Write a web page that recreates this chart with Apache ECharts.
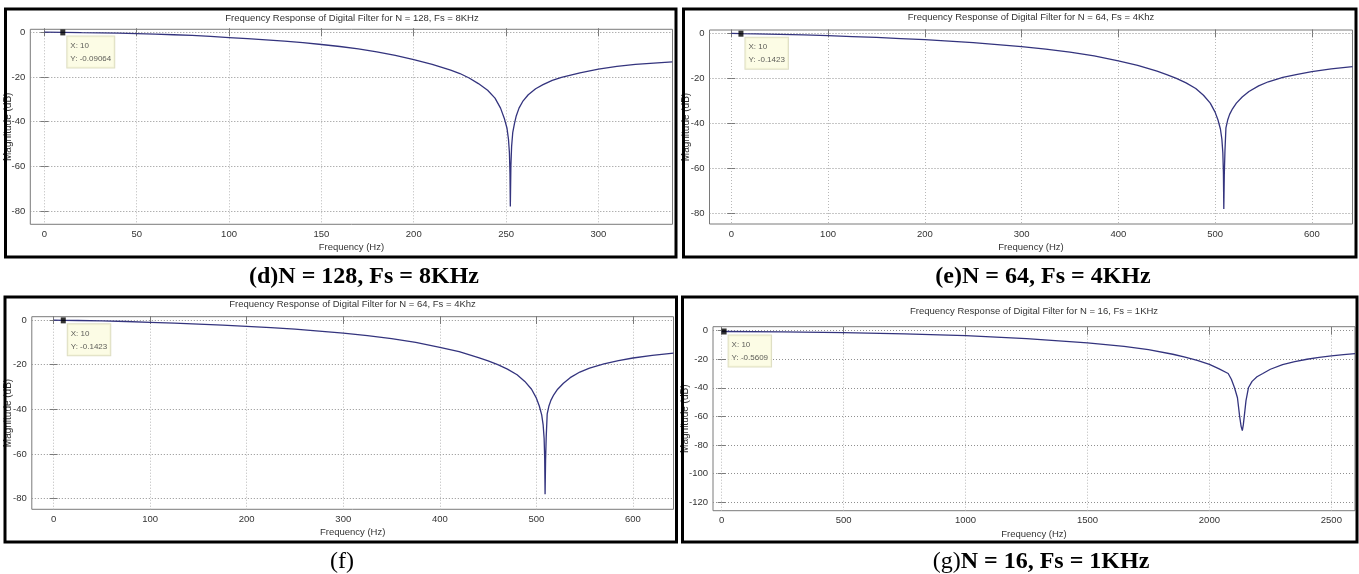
<!DOCTYPE html>
<html><head><meta charset="utf-8">
<script src="https://cdn.jsdelivr.net/npm/echarts@6/dist/echarts.min.js"></script>
<style>html,body{margin:0;padding:0;background:#fff}#c{width:1359px;height:574px}</style>
</head><body><div id="c"></div><script>
// ---- data ----
const freqD = [0,10,20,30,40,50,60,70,80,90,100,110,120,130,140,150,160,170,180,190,200,210,220,225,230,235,240,244,247,249,250.5,251.3,251.8,252.1,252.3,252.6,253.0,253.6,254.5,255.5,257,259,262,266,270,275,280,290,300,310,320,330,340];
const magD  = [0,-0.09,-0.2,-0.3,-0.45,-0.65,-0.9,-1.15,-1.45,-1.9,-2.4,-2.9,-3.4,-4.0,-4.7,-5.5,-6.4,-7.5,-8.8,-10.4,-12.3,-14.4,-17.0,-18.5,-20.5,-23,-26,-29.5,-34,-38.5,-43,-48,-54,-63,-78,-60,-51,-45,-41,-37.5,-34,-31,-28,-25.3,-23.5,-21.6,-20.2,-18.2,-16.5,-15.3,-14.4,-13.8,-13.3];

const freqE = [0,10,25,50,75,100,125,150,175,200,225,250,275,300,325,350,375,400,420,440,450,460,470,480,488,495,500,503,505.5,507,508,508.6,509,509.5,510.2,511.2,513,515,518,522,528,535,545,555,570,585,600,620,642];
const magE  = [0,-0.14,-0.2,-0.4,-0.65,-1.0,-1.4,-1.8,-2.3,-2.8,-3.4,-4.1,-5.0,-5.9,-7.0,-8.3,-10.0,-12.2,-14.2,-16.8,-18.3,-20,-22,-24.5,-27.5,-31,-35,-38.5,-42.5,-47,-53,-62,-78,-63,-52,-42,-38.5,-36,-33.5,-31,-28.3,-25.8,-23.3,-21.5,-19.6,-18.2,-17.0,-15.8,-14.8];

const freqF = [0,10,25,50,75,100,125,150,175,200,225,250,275,300,325,350,375,400,420,440,450,460,470,480,488,495,500,503,505.5,507,508,508.6,509,509.5,510.2,511.2,513,515,518,522,528,535,545,555,570,585,600,620,642];
const magF  = [0,-0.14,-0.2,-0.4,-0.65,-1.0,-1.4,-1.8,-2.3,-2.8,-3.4,-4.1,-5.0,-5.9,-7.0,-8.3,-10.0,-12.2,-14.2,-16.8,-18.3,-20,-22,-24.5,-27.5,-31,-35,-38.5,-42.5,-47,-53,-62,-78,-63,-52,-42,-38.5,-36,-33.5,-31,-28.3,-25.8,-23.3,-21.5,-19.6,-18.2,-17.0,-15.8,-14.8];

const freqG = [0,10,250,500,750,1000,1250,1500,1650,1750,1850,1900,1950,2000,2040,2077,2090,2103,2115,2124,2130,2135,2139,2143,2150,2160,2175,2195,2219,2250,2300,2350,2400,2450,2500,2550,2597];
const magG  = [-0.56,-0.5609,-0.8,-1.3,-2.2,-3.5,-5.6,-8.6,-11,-13.3,-16.5,-18.5,-20.8,-23.6,-26.8,-30,-34,-40,-47,-60,-67,-70,-66,-60,-49,-40,-35.5,-32.3,-30,-27,-23.8,-21.6,-20,-18.7,-17.6,-16.7,-16.0];

const xTicksD = [0,50,100,150,200,250,300];
const xTicksE = [0,100,200,300,400,500,600];
const xTicksF = [0,100,200,300,400,500,600];
const xTicksG = [0,500,1000,1500,2000,2500];
const yTicksD = [-80,-60,-40,-20,0];
const yTicksE = [-80,-60,-40,-20,0];
const yTicksF = [-80,-60,-40,-20,0];
const yTicksG = [-120,-100,-80,-60,-40,-20,0];

const titles = [
  'Frequency Response of Digital Filter for N = 128, Fs = 8KHz',
  'Frequency Response of Digital Filter for N = 64, Fs = 4Khz',
  'Frequency Response of Digital Filter for N = 64, Fs = 4Khz',
  'Frequency Response of Digital Filter for N = 16, Fs = 1KHz'
];
const tipX = [10,10,10,10];
const tipY = [-0.09064,-0.1423,-0.1423,-0.5609];
const tipText = ['X: 10\nY: -0.09064','X: 10\nY: -0.1423','X: 10\nY: -0.1423','X: 10\nY: -0.5609'];
const xName = 'Frequency (Hz)';
const yName = 'Magnitude (dB)';

// ---- layout ----
const panels = [
  {freq:freqD, mag:magD, xt:xTicksD, yt:yTicksD, xr:[-7.6,340.1], yr:[-86,1.3],
   grid:{left:30.3, top:29.3, width:642.2, height:195},
   frame:[5.5,9,670.5,248], title:[352,18.3], ylab:[8], cap:[364,277]},
  {freq:freqE, mag:magE, xt:xTicksE, yt:yTicksE, xr:[-22.5,642], yr:[-84.7,1.5],
   grid:{left:709.5, top:30, width:643, height:194},
   frame:[683.5,9,672.5,248], title:[1031,17.3], ylab:[686.5], cap:[1043,277]},
  {freq:freqF, mag:magF, xt:xTicksF, yt:yTicksF, xr:[-22.6,642], yr:[-84.8,1.5],
   grid:{left:31.8, top:316.7, width:641.7, height:192.6},
   frame:[5,297,671.5,245], title:[352.5,304.3], ylab:[8.5], cap:[342,562]},
  {freq:freqG, mag:magG, xt:xTicksG, yt:yTicksG, xr:[-35.5,2597], yr:[-126.1,2.8],
   grid:{left:713, top:326.7, width:642, height:184},
   frame:[682.5,297,674.5,245], title:[1034,311], ylab:[685], cap:[1041,562]}
];
const captions = [
  {t:'(d)N = 128, Fs = 8KHz', rich:false, bold:true},
  {t:'(e)N = 64, Fs = 4KHz', rich:false, bold:true},
  {t:'(f)', rich:false, bold:false},
  {t:'{a|(g)}{b|N = 16, Fs = 1KHz}', rich:true}
];

const SANS = '"Liberation Sans",Arial,sans-serif';
const SERIF = '"Liberation Serif","Times New Roman",serif';
const boxCol = '#7a7a7a';
const plain = v => String(v);

const grids=[], xAxes=[], yAxes=[], series=[], graphics=[];
panels.forEach((p,i)=>{
  grids.push(Object.assign({show:true, backgroundColor:'#fff', borderColor:boxCol, borderWidth:1, containLabel:false}, p.grid));
  const tick = {show:true, inside:true, length:4, lineStyle:{color:boxCol, width:1}};
  xAxes.push({type:'value', gridIndex:i, min:p.xr[0], max:p.xr[1], position:'bottom',
    axisLine:{show:false}, axisTick:Object.assign({customValues:p.xt}, tick),
    axisLabel:{customValues:p.xt, formatter:plain, fontFamily:SANS, fontSize:9.5, color:'#333', margin:5},
    splitLine:{show:true, lineStyle:{type:[1,2], color:'#b8b8b8', width:1}}});
  xAxes.push({type:'value', gridIndex:i, min:p.xr[0], max:p.xr[1], position:'top',
    axisLine:{show:false}, axisTick:Object.assign({customValues:p.xt}, tick),
    axisLabel:{show:false}, splitLine:{show:false}});
  yAxes.push({type:'value', gridIndex:i, min:p.yr[0], max:p.yr[1], position:'left',
    axisLine:{show:false}, axisTick:Object.assign({customValues:p.yt}, tick),
    axisLabel:{customValues:p.yt, formatter:plain, fontFamily:SANS, fontSize:9.5, color:'#333', margin:5},
    splitLine:{show:true, lineStyle:{type:[1,2], color:'#8f8f8f', width:1}}});
  yAxes.push({type:'value', gridIndex:i, min:p.yr[0], max:p.yr[1], position:'right',
    axisLine:{show:false}, axisTick:Object.assign({customValues:p.yt}, tick),
    axisLabel:{show:false}, splitLine:{show:false}});
  series.push({type:'line', xAxisIndex:2*i, yAxisIndex:2*i, showSymbol:false, symbol:'none',
    data:p.freq.map((f,k)=>[f,p.mag[k]]), lineStyle:{color:'#34347e', width:1.3}, z:3, animation:false, silent:true});
  series.push({type:'scatter', xAxisIndex:2*i, yAxisIndex:2*i, symbol:'rect', symbolSize:[5,6],
    itemStyle:{color:'#000'}, data:[[tipX[i], tipY[i]]], z:5, animation:false, silent:true,
    label:{show:true, position:[7,7], formatter:tipText[i], fontFamily:SANS, fontSize:8, color:'#333',
      lineHeight:13, backgroundColor:'#fbfbdf', borderColor:'#d6d6b4', borderWidth:1, padding:[3,3,2,3]}});
  graphics.push({type:'text', x:p.title[0], y:p.title[1], z:10,
    style:{text:titles[i], fontFamily:SANS, fontSize:9.5, fill:'#333', align:'center', verticalAlign:'middle', textAlign:'center', textVerticalAlign:'middle'}});
  const g = p.grid;
  graphics.push({type:'text', x:g.left+g.width/2, y:g.top+g.height+23.5, z:10,
    style:{text:xName, fontFamily:SANS, fontSize:9.5, fill:'#333', align:'center', verticalAlign:'middle', textAlign:'center', textVerticalAlign:'middle'}});
  graphics.push({type:'text', x:p.ylab[0], y:g.top+g.height/2, rotation:Math.PI/2, z:10,
    style:{text:yName, fontFamily:SANS, fontSize:10, fill:'#333', align:'center', verticalAlign:'middle', textAlign:'center', textVerticalAlign:'middle'}});
  graphics.push({type:'rect', z:20, shape:{x:p.frame[0], y:p.frame[1], width:p.frame[2], height:p.frame[3]},
    style:{fill:null, stroke:'#000', lineWidth:3}});
  const c = captions[i];
  const cs = {text:c.t, fontFamily:SERIF, fontSize:24, fontWeight:c.bold?'bold':'normal', fill:'#000',
    align:'center', verticalAlign:'middle', textAlign:'center', textVerticalAlign:'middle'};
  if (c.rich) cs.rich = {a:{fontFamily:SERIF, fontSize:24, fontWeight:'normal', fill:'#000'}, b:{fontFamily:SERIF, fontSize:24, fontWeight:'bold', fill:'#000'}};
  graphics.push({type:'text', x:p.cap[0], y:p.cap[1], z:10, style:cs});
});

const chart = echarts.init(document.getElementById('c'), null, {renderer:'canvas'});
chart.setOption({animation:false, backgroundColor:'#fff', grid:grids, xAxis:xAxes, yAxis:yAxes, series:series, graphic:graphics});
</script></body></html>
